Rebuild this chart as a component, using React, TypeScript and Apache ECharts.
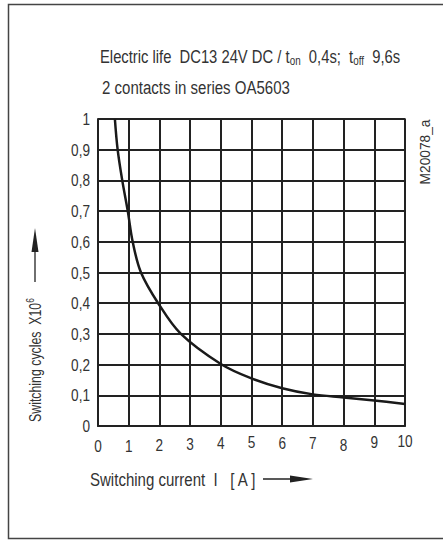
import React, { useEffect, useRef } from "react";
import * as echarts from "echarts";

// Data
const currentA = [0.55, 0.64, 0.79, 0.97, 1.13, 1.4, 1.96, 2.7, 4, 5, 6, 7, 8, 9, 10];
const cyclesMillions = [1.0, 0.9, 0.8, 0.7, 0.6, 0.5, 0.4, 0.3, 0.202, 0.155, 0.123, 0.103, 0.093, 0.083, 0.072];
const xTicks = [0, 1, 2, 3, 4, 5, 6, 7, 8, 9, 10];
const yTicks = [0, 0.1, 0.2, 0.3, 0.4, 0.5, 0.6, 0.7, 0.8, 0.9, 1];
const yTickLabels = ["0", "0,1", "0,2", "0,3", "0,4", "0,5", "0,6", "0,7", "0,8", "0,9", "1"];
// hand-lettered label offsets (px up) as in the drawing
const xTickLift = [0, 0, 0.7, 1.7, 2.7, 4, 3.4, 3.4, 1, 4, 4.7];

const titleMain1 = ["Electric life  DC13 24V DC / t", "on", "  0,4s;  t", "off", "  9,6s"];
const titleLine2 = "2 contacts in series OA5603";
const xName = "Switching current  I   [ A ]";
const yNameMain = "Switching cycles  X10";
const yNameSup = "6";
const figId = "M20078_a";

const FAM = '"Liberation Sans", Arial, sans-serif';
const INK = "#222";
const TXT = "#333";

function measure(text: string, size: number) {
  const c = document.createElement("canvas").getContext("2d");
  if (!c) return text.length * size * 0.5;
  c.font = `${size}px ${FAM}`;
  return c.measureText(text).width;
}

export default function App() {
  const ref = useRef<HTMLDivElement>(null);
  useEffect(() => {
    if (!ref.current) return;
    const chart = echarts.init(ref.current, null, { renderer: "svg" });
    chart.setOption({
      animation: false,
      backgroundColor: "#fff",
      grid: {
        left: 98, top: 119, width: 307, height: 307,
        show: true, borderColor: INK, borderWidth: 1.5, backgroundColor: "transparent",
      },
      xAxis: {
        type: "value", min: 0, max: 10, interval: 1,
        axisLine: { show: true, lineStyle: { color: INK, width: 2 } },
        axisTick: { show: false },
        axisLabel: { show: false },
        splitLine: { show: true, lineStyle: { color: INK, width: 2 } },
      },
      yAxis: {
        type: "value", min: 0, max: 1, interval: 0.1,
        axisLine: { show: true, lineStyle: { color: INK, width: 1.5 } },
        axisTick: { show: false },
        axisLabel: { show: false },
        splitLine: { show: true, lineStyle: { color: INK, width: 2 } },
      },
      series: [
        {
          type: "line",
          data: currentA.map((x, i) => [x, cyclesMillions[i]]),
          smooth: 0.35,
          showSymbol: false,
          lineStyle: { color: "#1a1a1a", width: 2.5 },
        },
      ],
    });

    const TICK_SIZE = 17;
    const TICK_SX = 0.8;
    const axisY = chart.convertToPixel({ yAxisIndex: 0 }, 0) as number;
    const axisX = chart.convertToPixel({ xAxisIndex: 0 }, 0) as number;
    const xTickTexts = xTicks.map((v, i) => ({
      type: "text",
      x: chart.convertToPixel({ xAxisIndex: 0 }, v) as number,
      y: axisY + 20 - xTickLift[i],
      scaleX: TICK_SX,
      style: { text: String(v), fill: TXT, font: `${TICK_SIZE}px ${FAM}`, align: "center", verticalAlign: "middle" },
      silent: true,
    }));
    const yTickTexts = yTicks.map((v, i) => ({
      type: "text",
      x: axisX - 8,
      y: chart.convertToPixel({ yAxisIndex: 0 }, v) as number,
      scaleX: TICK_SX,
      style: { text: yTickLabels[i], fill: TXT, font: `${TICK_SIZE}px ${FAM}`, align: "right", verticalAlign: "middle" },
      silent: true,
    }));

    const T = 18, S = 12, YN = 16;
    const w1 = measure(titleMain1[0] + titleMain1[2] + titleMain1[4], T) + measure(titleMain1[1] + titleMain1[3], S);
    const sx1 = 300 / w1;
    const sx2 = 188 / measure(titleLine2, T);
    const sxX = 167 / measure(xName, T);
    const sxY = 124 / (measure(yNameMain, YN) + measure(yNameSup, 11));
    const sxF = 65 / measure(figId, 14);

    const richT = {
      sub: { fontSize: S, fontFamily: FAM, fill: TXT, padding: [9, 0, 0, 0] },
    };

    chart.setOption({
      graphic: [
        {
          type: "rect",
          shape: { x: 8.5, y: 4.5, width: 500, height: 534 },
          style: { fill: "none", stroke: "#444", lineWidth: 1.5 },
          silent: true,
        },
        {
          type: "text", x: 100, y: 56, scaleX: sx1,
          style: {
            text: `${titleMain1[0]}{sub|${titleMain1[1]}}${titleMain1[2]}{sub|${titleMain1[3]}}${titleMain1[4]}`,
            fill: TXT, font: `${T}px ${FAM}`, verticalAlign: "middle", rich: richT,
          },
          silent: true,
        },
        {
          type: "text", x: 102, y: 88, scaleX: sx2,
          style: { text: titleLine2, fill: TXT, font: `${T}px ${FAM}`, verticalAlign: "middle" },
          silent: true,
        },
        {
          type: "text", x: 425, y: 152, rotation: Math.PI / 2, scaleX: sxF,
          style: { text: figId, fill: TXT, font: `14px ${FAM}`, align: "center", verticalAlign: "middle" },
          silent: true,
        },
        {
          type: "text", x: 35, y: 360, rotation: Math.PI / 2, scaleX: sxY,
          style: {
            text: `${yNameMain}{sup|${yNameSup}}`, fill: TXT, font: `${YN}px ${FAM}`, align: "center", verticalAlign: "middle",
            rich: { sup: { fontSize: 11, fontFamily: FAM, fill: TXT, padding: [0, 0, 9, 0] } },
          },
          silent: true,
        },
        {
          type: "line", shape: { x1: 35, y1: 282, x2: 35, y2: 245 },
          style: { stroke: INK, lineWidth: 1.3 }, silent: true,
        },
        {
          type: "polygon", shape: { points: [[31.5, 252], [35, 228], [38.5, 252]] },
          style: { fill: INK }, silent: true,
        },
        {
          type: "text", x: 90, y: 480, scaleX: sxX,
          style: { text: xName, fill: TXT, font: `${T}px ${FAM}`, verticalAlign: "middle" },
          silent: true,
        },
        {
          type: "line", shape: { x1: 263, y1: 479, x2: 296, y2: 479 },
          style: { stroke: INK, lineWidth: 1.3 }, silent: true,
        },
        {
          type: "polygon", shape: { points: [[290, 475.5], [313, 479], [290, 482.5]] },
          style: { fill: INK }, silent: true,
        },
        ...xTickTexts,
        ...yTickTexts,
      ],
    });
    return () => chart.dispose();
  }, []);
  return (
    <div
      ref={ref}
      style={{ position: "fixed", left: 0, top: 0, width: 443, height: 540 }}
    />
  );
}
